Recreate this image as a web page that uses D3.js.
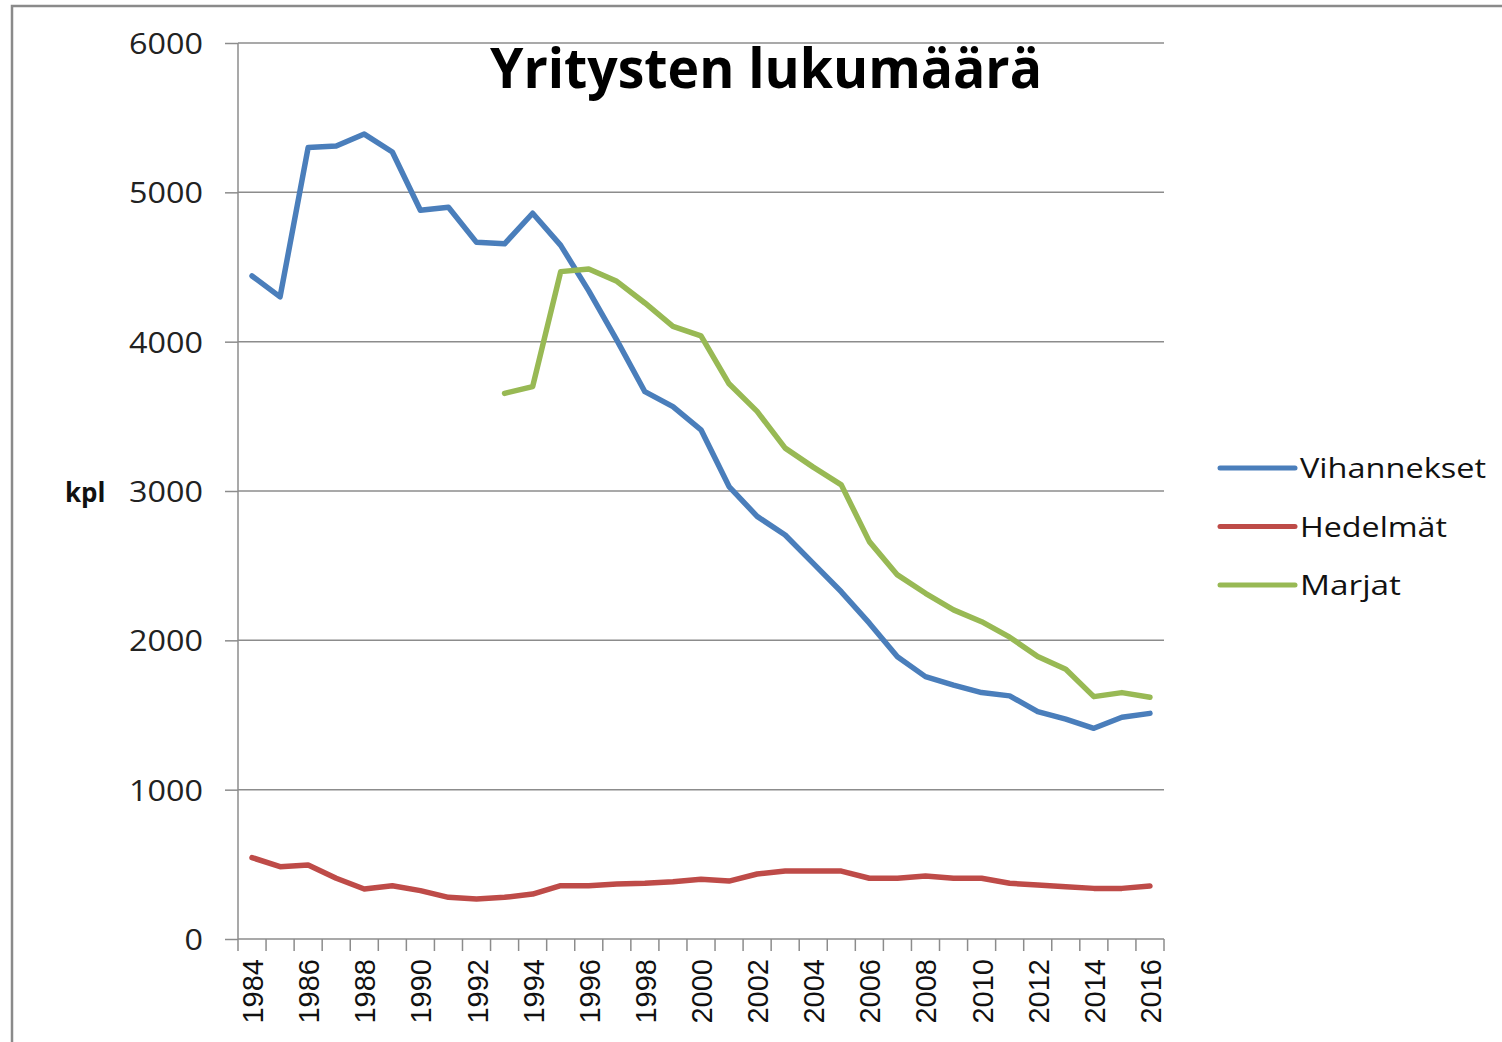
<html>
<head>
    <meta charset="utf-8">
    <script src="https://cdn.jsdelivr.net/npm/d3@7/dist/d3.min.js"></script>
    <style>
        body { margin: 0; background: #fff; }
    </style>
</head>
<body>
    <script type="text/javascript">
        // Data
        var years = d3.range(1984, 2017);
        var vihannekset = [4440, 4300, 5300, 5310, 5390, 5270, 4880, 4900, 4665, 4655,
            4860, 4645, 4340, 4010, 3665, 3565, 3410, 3030, 2830, 2705,
            2515, 2325, 2115, 1890, 1757, 1700, 1650, 1628, 1523, 1472,
            1411, 1485, 1511];
        var hedelmat = [545, 484, 496, 407, 335, 357, 324, 279, 268, 279,
            301, 357, 357, 368, 373, 384, 400, 388, 435, 455,
            455, 455, 407, 407, 422, 407, 407, 373, 362, 350,
            339, 339, 355];
        var marjat = [null, null, null, null, null, null, null, null, null, 3654,
            3699, 4469, 4487, 4404, 4259, 4103, 4039, 3718, 3533, 3287,
            3160, 3041, 2661, 2438, 2315, 2204, 2125, 2021, 1891, 1806,
            1623, 1650, 1619];
        var seriesNames = ["Vihannekset", "Hedelmät", "Marjat"];
        var seriesColors = ["#4a7ebb", "#be4b48", "#98b954"];
        var yTicks = [0, 1000, 2000, 3000, 4000, 5000, 6000];

        var width = 1502, height = 1042;
        var plotLeft = 238, plotRight = 1164, plotTop = 43, plotBottom = 939;

        var svg = d3.select("body").append("svg")
            .attr("width", width)
            .attr("height", height);

        // outer frame (left and top edges visible)
        svg.append("path")
            .attr("d", "M12," + height + "V6H" + width)
            .attr("fill", "none")
            .attr("stroke", "#8a8a8a")
            .attr("stroke-width", 2.5);

        var x = d3.scaleBand()
            .domain(years)
            .range([plotLeft, plotRight])
            .padding(0);

        var y = d3.scaleLinear()
            .domain([0, 6000])
            .range([plotBottom, plotTop]);

        // gridlines
        svg.append("g").selectAll("line")
            .data(yTicks.filter(d => d > 0))
            .join("line")
            .attr("x1", plotLeft).attr("x2", plotRight)
            .attr("y1", d => y(d)).attr("y2", d => y(d))
            .attr("stroke", "#8c8c8c")
            .attr("stroke-width", 1.5);

        // y axis
        var yAxis = svg.append("g")
            .attr("transform", "translate(" + plotLeft + ",0)")
            .call(d3.axisLeft(y).tickValues(yTicks).tickFormat(d3.format("d")).tickSize(13).tickPadding(22));
        yAxis.select(".domain").remove();
        yAxis.selectAll(".tick line").attr("stroke", "#8c8c8c").attr("stroke-width", 1.5);
        yAxis.selectAll(".tick text")
            .attr("font-family", "Open Sans")
            .attr("font-size", 29)
            .attr("fill", "#222")
            .attr("x", -35)
            .attr("dy", "0.36em")
            .attr("textLength", d => String(d).length * 18.5)
            .attr("lengthAdjust", "spacingAndGlyphs");

        svg.append("line")
            .attr("x1", plotLeft).attr("x2", plotLeft)
            .attr("y1", plotTop).attr("y2", plotBottom)
            .attr("stroke", "#8c8c8c")
            .attr("stroke-width", 1.5);

        // x axis with ticks on band boundaries
        svg.append("line")
            .attr("x1", plotLeft).attr("x2", plotRight)
            .attr("y1", plotBottom).attr("y2", plotBottom)
            .attr("stroke", "#8c8c8c")
            .attr("stroke-width", 1.5);
        svg.append("g").selectAll("line")
            .data(years.concat([2017]))
            .join("line")
            .attr("x1", d => d === 2017 ? plotRight : x(d))
            .attr("x2", d => d === 2017 ? plotRight : x(d))
            .attr("y1", plotBottom).attr("y2", plotBottom + 12)
            .attr("stroke", "#8c8c8c")
            .attr("stroke-width", 1.5);

        svg.append("g").selectAll("text")
            .data(years.filter(d => (d - 1984) % 2 === 0))
            .join("text")
            .attr("transform", d => "translate(" + (x(d) + x.bandwidth() / 2 + 11) + "," + (plotBottom + 20) + ") rotate(-90)")
            .attr("text-anchor", "end")
            .attr("font-family", "Liberation Sans")
            .attr("font-size", 29)
            .attr("fill", "#111")
            .text(d => d);

        // lines
        var allSeries = [vihannekset, hedelmat, marjat];
        var line = d3.line()
            .defined(d => d.v !== null)
            .x(d => x(d.year) + x.bandwidth() / 2)
            .y(d => y(d.v));

        svg.append("g").selectAll("path")
            .data(allSeries)
            .join("path")
            .attr("d", s => line(s.map((v, i) => ({ year: years[i], v: v }))))
            .attr("fill", "none")
            .attr("stroke", (s, i) => seriesColors[i])
            .attr("stroke-width", 5.5)
            .attr("stroke-linejoin", "round")
            .attr("stroke-linecap", "round");

        // title
        svg.append("text")
            .attr("x", 490)
            .attr("y", 88)
            .attr("textLength", 552)
            .attr("lengthAdjust", "spacingAndGlyphs")
            .attr("font-family", "Open Sans")
            .attr("font-weight", "bold")
            .attr("font-size", 55)
            .attr("fill", "#000")
            .text("Yritysten lukumäärä");

        // y axis label
        svg.append("text")
            .attr("x", 65)
            .attr("y", 502)
            .attr("font-family", "Open Sans")
            .attr("font-weight", "bold")
            .attr("font-size", 26)
            .attr("fill", "#111")
            .text("kpl");

        // legend
        var legend = svg.append("g").selectAll("g")
            .data(seriesNames)
            .join("g")
            .attr("transform", (d, i) => "translate(1220," + (468 + i * 58.5) + ")");
        legend.append("line")
            .attr("x1", 0).attr("x2", 75)
            .attr("stroke", (d, i) => seriesColors[i])
            .attr("stroke-width", 5)
            .attr("stroke-linecap", "round");
        legend.append("text")
            .attr("x", 80)
            .attr("y", 10)
            .attr("textLength", d => ({ "Vihannekset": 186, "Hedelmät": 147, "Marjat": 101 })[d])
            .attr("lengthAdjust", "spacingAndGlyphs")
            .attr("font-family", "Open Sans")
            .attr("font-size", 27)
            .attr("fill", "#111")
            .text(d => d);
    </script>
</body>
</html>
